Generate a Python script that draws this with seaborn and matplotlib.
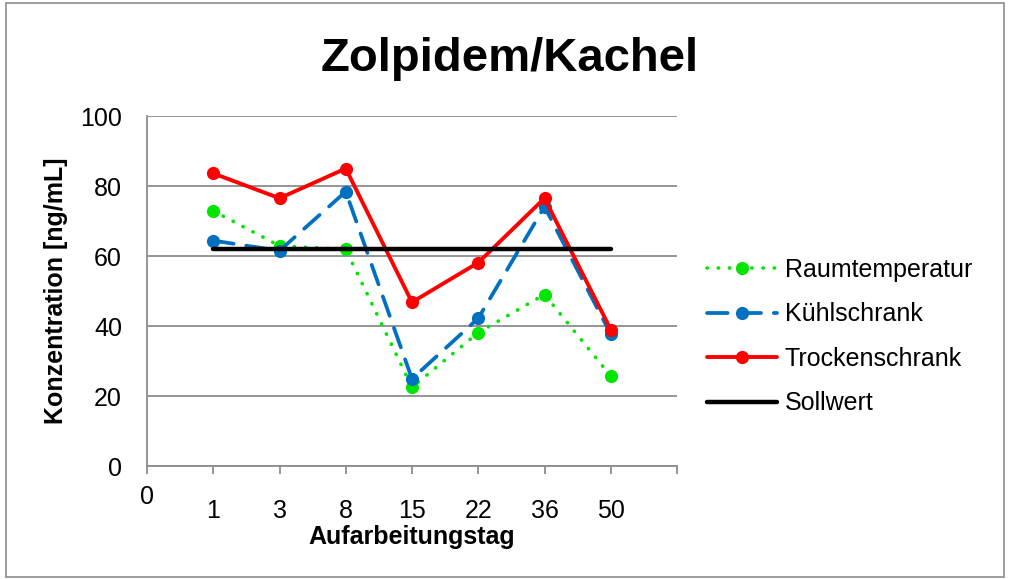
import matplotlib
matplotlib.use("Agg")
import matplotlib.pyplot as plt
import matplotlib.transforms as mtransforms
from matplotlib.patches import Rectangle
import numpy as np
import pandas as pd
import seaborn as sns

# Daten
tage = ["1", "3", "8", "15", "22", "36", "50"]
raumtemperatur = [72.9, 62.9, 61.9, 22.5, 38.1, 49.0, 25.7]
kuehlschrank = [64.4, 61.5, 78.4, 24.9, 42.2, 74.1, 37.7]
trockenschrank = [83.6, 76.5, 85.0, 46.8, 58.1, 76.5, 39.0]
sollwert = [62.1] * 7

sns.set_theme(style="white")
plt.rcParams["font.family"] = ["Liberation Sans", "DejaVu Sans"]
plt.rcParams["text.color"] = "black"
plt.rcParams["axes.labelcolor"] = "black"

pos = np.arange(1, len(tage) + 1)
df = pd.DataFrame({"pos": pos, "Raumtemperatur": raumtemperatur,
                   "Kühlschrank": kuehlschrank, "Trockenschrank": trockenschrank,
                   "Sollwert": sollwert})

fig = plt.figure(figsize=(10.09, 5.79), dpi=100)
ax = fig.add_axes([147 / 1009, 1 - 466 / 579, 530 / 1009, 350 / 579])

# Rahmen um das Diagramm
fig.patches.append(Rectangle((6 / 1009, 2 / 579), 998 / 1009, 574 / 579,
                             transform=fig.transFigure, fill=False,
                             edgecolor="#8c8c8c", linewidth=1.2))

# Serien
sns.lineplot(data=df, x="pos", y="Raumtemperatur", ax=ax, color="#00e600",
             linewidth=2.6, marker="o", markersize=9.5, markeredgewidth=0,
             label="Raumtemperatur", linestyle=(0, (0.1, 3.0)),
             dash_capstyle="round")
sns.lineplot(data=df, x="pos", y="Kühlschrank", ax=ax, color="#0070c0",
             linewidth=2.7, marker="o", markersize=9.5, markeredgewidth=0,
             label="Kühlschrank", linestyle=(0, (5.5, 3.4)),
             dash_capstyle="round")
sns.lineplot(data=df, x="pos", y="Trockenschrank", ax=ax, color="#ff0000",
             linewidth=2.8, marker="o", markersize=9.5, markeredgewidth=0,
             label="Trockenschrank")
sns.lineplot(data=df, x="pos", y="Sollwert", ax=ax, color="black",
             linewidth=3.2, label="Sollwert", solid_capstyle="round")

# Achsen
ax.set_xlim(0, 8)
ax.set_ylim(0, 100)
ax.set_yticks(np.arange(0, 101, 20))
ax.set_xticks(np.arange(0, 9))
ax.set_xticklabels([""] + tage + [""])
ax.yaxis.grid(True, color="#8c8c8c", linewidth=1.3)
ax.xaxis.grid(False)
ax.set_axisbelow(True)
for s in ["top", "right"]:
    ax.spines[s].set_visible(False)
for s in ["left", "bottom"]:
    ax.spines[s].set_color("#8c8c8c")
    ax.spines[s].set_linewidth(1.3)
ax.tick_params(axis="both", which="both", direction="out", length=6,
               width=1.3, color="#8c8c8c", labelsize=18, labelcolor="black")
ax.tick_params(axis="x", pad=18)
ax.tick_params(axis="y", pad=12)
ax.tick_params(axis="x", which="major", bottom=True)

# "0" am Ursprung, etwas höher als die anderen Beschriftungen
trans = mtransforms.blended_transform_factory(ax.transData, ax.transAxes)
ax.text(0, -0.088, "0", transform=trans, ha="center", va="center", fontsize=18)

ax.set_xlabel("Aufarbeitungstag", fontsize=18, fontweight="bold", labelpad=1)
ax.set_ylabel("Konzentration [ng/mL]", fontsize=18, fontweight="bold", labelpad=9)

fig.text(0.505, 0.898, "Zolpidem/Kachel", ha="center", va="center",
         fontsize=34, fontweight="bold")

leg = ax.legend(loc="center left", bbox_to_anchor=(1.038, 0.37), frameon=False,
                fontsize=18, handlelength=2.8, handletextpad=0.3,
                labelspacing=0.82, borderaxespad=0)

fig.savefig("out.png", dpi=100)
